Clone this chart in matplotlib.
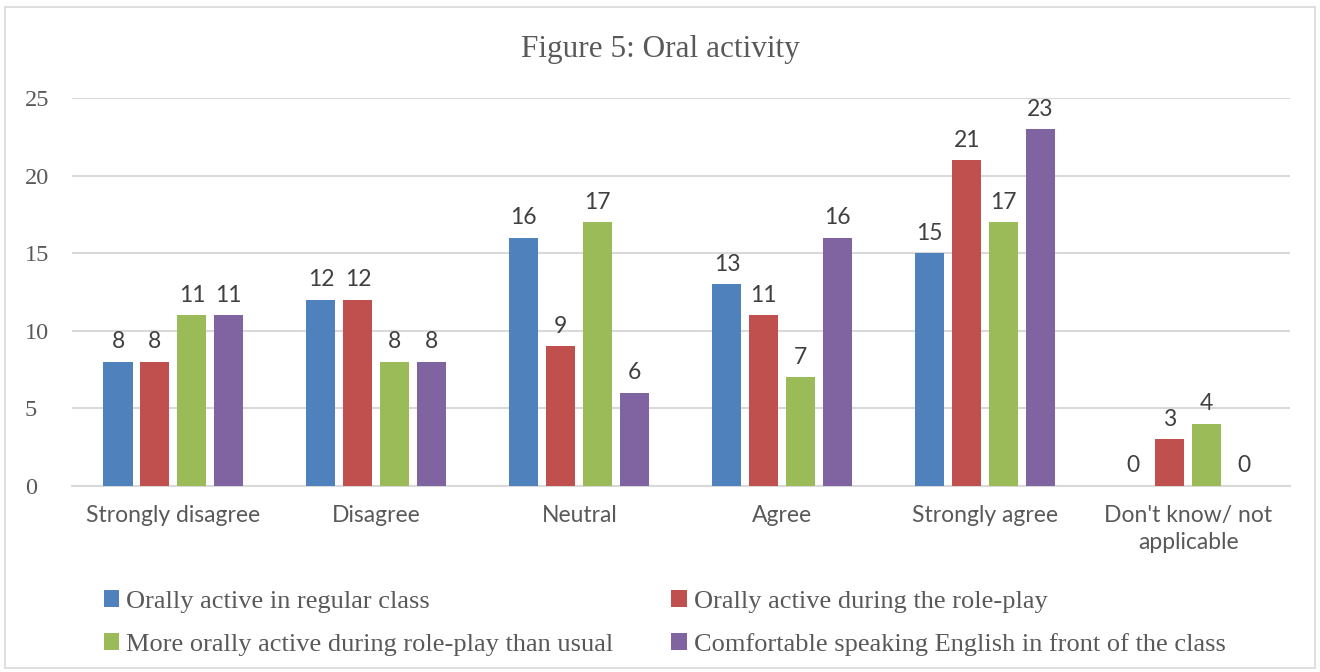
import matplotlib
matplotlib.use("Agg")
import matplotlib.pyplot as plt
import numpy as np
from matplotlib.patches import Rectangle

categories = ["Strongly disagree", "Disagree", "Neutral", "Agree",
              "Strongly agree", "Don't know/ not\napplicable"]
regular_class = [8, 12, 16, 13, 15, 0]
during_roleplay = [8, 12, 9, 11, 21, 3]
more_than_usual = [11, 8, 17, 7, 17, 4]
comfortable_english = [11, 8, 6, 16, 23, 0]

series_names = ["Orally active in regular class",
                "Orally active during the role-play",
                "More orally active during role-play than usual",
                "Comfortable speaking English in front of the class"]
colors = ["#4f81bd", "#c0504d", "#9bbb59", "#8064a2"]

serif = "Liberation Serif"
sans = "Lato"
txt = "#595959"

fig = plt.figure(figsize=(13.2, 6.72), dpi=100)
ax = fig.add_axes([0.0545, 0.2768, 0.9225, 0.577])

# chart border
fig.patches.append(Rectangle((0.004, 0.006), 0.992, 0.984, transform=fig.transFigure,
                             fill=False, edgecolor="#d9d9d9", linewidth=1.2))

ind = np.arange(len(categories))
width = 0.143
step = 0.182
all_series = [regular_class, during_roleplay, more_than_usual, comfortable_english]
handles = []
for i, vals in enumerate(all_series):
    bars = ax.bar(ind + (i - 1.5) * step, vals, width, color=colors[i],
                  label=series_names[i], zorder=3)
    ax.bar_label(bars, padding=7, fontsize=16.5, color="#404040", fontfamily=sans)
    handles.append(bars)

ax.set_xlim(-0.5, len(categories) - 0.5)
ax.set_ylim(0, 25)
ax.set_yticks([0, 5, 10, 15, 20, 25])
ax.yaxis.grid(True, color="#d9d9d9", linewidth=1.5, zorder=0)
ax.set_axisbelow(True)
for s in ["top", "right", "left"]:
    ax.spines[s].set_visible(False)
ax.spines["bottom"].set_color("#d9d9d9")
ax.spines["bottom"].set_linewidth(1.5)
ax.tick_params(axis="both", length=0, colors=txt)
ax.tick_params(axis="y", pad=34)
ax.tick_params(axis="x", pad=14)
ax.set_xticks(ind)
ax.set_xticklabels(categories, fontsize=16.5, fontfamily=sans, color=txt, linespacing=1.35)
for lab in ax.get_yticklabels():
    lab.set_fontfamily(serif)
    lab.set_fontsize(17.5)
    lab.set_horizontalalignment("left")

fig.text(0.5, 0.926, "Figure 5: Oral activity", ha="center", va="center",
         fontsize=22.5, fontfamily=serif, color=txt)

# row-wise legend order
order = [0, 2, 1, 3]
leg = fig.legend([handles[k] for k in order], [series_names[k] for k in order],
                 loc="center left", bbox_to_anchor=(0.0605, 0.073), ncol=2,
                 frameon=False, prop={"family": serif, "size": 19},
                 handlelength=0.6, handleheight=0.6, handletextpad=0.25,
                 columnspacing=2.2, labelspacing=0.78, labelcolor=txt)

plt.savefig("out.png", dpi=100)
